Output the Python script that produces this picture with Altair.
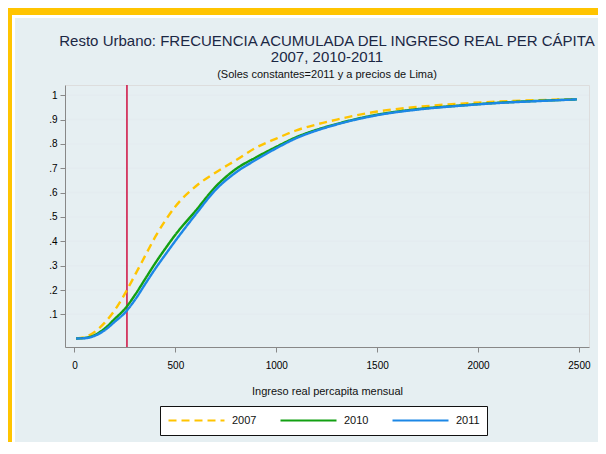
import altair as alt
import pandas as pd

# ---- data ----
ingreso = [8, 50, 100, 150, 200, 250, 300, 350, 400, 450, 500, 600, 700, 800, 900,
           1000, 1100, 1200, 1300, 1400, 1500, 1700, 1900, 2100, 2300, 2490]
f2007 = [0.001, 0.006, 0.028, 0.066, 0.118, 0.185, 0.262, 0.34, 0.418, 0.485, 0.543,
         0.625, 0.683, 0.733, 0.785, 0.822, 0.856, 0.88, 0.90, 0.918, 0.933, 0.952,
         0.965, 0.974, 0.98, 0.984]
f2010 = [0.001, 0.003, 0.015, 0.042, 0.082, 0.123, 0.18, 0.245, 0.31, 0.37, 0.427,
         0.525, 0.625, 0.697, 0.745, 0.788, 0.828, 0.858, 0.882, 0.903, 0.92, 0.943,
         0.957, 0.969, 0.977, 0.983]
f2011 = [0.001, 0.002, 0.012, 0.035, 0.07, 0.107, 0.16, 0.224, 0.287, 0.345, 0.402,
         0.51, 0.612, 0.683, 0.735, 0.782, 0.824, 0.855, 0.88, 0.901, 0.918, 0.941,
         0.956, 0.968, 0.976, 0.983]
series = ["2007", "2010", "2011"]
linea_pobreza = [260]
y_ticks = [0.1, 0.2, 0.3, 0.4, 0.5, 0.6, 0.7, 0.8, 0.9, 1.0]
x_ticks = [0, 500, 1000, 1500, 2000, 2500]

titulo = ["Resto Urbano: FRECUENCIA ACUMULADA DEL INGRESO REAL PER CÁPITA",
          "2007, 2010-2011"]
subtitulo = "(Soles constantes=2011 y a precios de Lima)"
x_titulo = "Ingreso real percapita mensual"

rows = []
for name, vals in zip(series, [f2007, f2010, f2011]):
    for x, f in zip(ingreso, vals):
        rows.append({"ingreso": x, "F": f, "anio": name})
df = pd.DataFrame(rows)

FONT = "Liberation Sans"
YELLOW = "#ffc400"
BG = "#e6eff2"
W, H = 524, 262
PL, PT = 57, 77
TOTW, TOTH = 590, 434
RX = TOTW - PL  # right edge of the svg in plot coordinates

xscale = alt.Scale(domain=[-47, 2550], nice=False, zero=False)
yscale = alt.Scale(domain=[-0.034, 1.042], nice=False, zero=False)
xaxis = alt.Axis(values=x_ticks, format="d", title=x_titulo, grid=False, zindex=1,
                 tickSize=5, labelPadding=8, titlePadding=15, titleFontWeight="normal",
                 titleFont=FONT, titleFontSize=11, titleColor="#111")
yaxis = alt.Axis(values=y_ticks, title=None, grid=False, zindex=1, tickSize=5,
                 labelPadding=3,
                 labelExpr="datum.value >= 0.999 ? '1' : '.' + round(datum.value * 10)")


def xenc(field):
    return alt.X(field, type="quantitative", scale=xscale, axis=xaxis)


def yenc(field):
    return alt.Y(field, type="quantitative", scale=yscale, axis=yaxis)


one = alt.Data(values=[{"k": 1}])


def box(x1, x2, y1, y2, color):
    return alt.Chart(one).mark_rect(color=color).encode(
        x=alt.value(x1), x2=alt.value(x2), y=alt.value(y1), y2=alt.value(y2))


# outer yellow frame (left and top) and the white gap inside it
frame_left = box(-PL, -PL + 4, -PT, TOTH, YELLOW)
frame_top = box(-PL, RX, -PT, -PT + 7, YELLOW)
gap_left = box(-PL + 4, -PL + 7, -PT + 7, TOTH, "white")
gap_top = box(-PL + 4, RX, -PT + 7, -PT + 10, "white")

grid = alt.Chart(pd.DataFrame({"t": y_ticks})).mark_rule(
    color="#e4ecf0", strokeWidth=1.5).encode(y=yenc("t"))

vline = alt.Chart(pd.DataFrame({"lp": linea_pobreza})).mark_rule(
    color="#d01c4b", strokeWidth=1.6).encode(x=xenc("lp"))

legend = alt.Legend(title=None, orient="none", legendX=95, legendY=321,
                    direction="horizontal", symbolType="stroke", symbolSize=3136,
                    symbolStrokeWidth=2.2, clipHeight=15, labelFontSize=11,
                    labelFont=FONT, labelColor="#111", strokeColor="#111",
                    fillColor="white", padding=7, columnPadding=22, labelOffset=6,
                    cornerRadius=0)

lines = alt.Chart(df).mark_line(strokeWidth=2.4, interpolate="monotone").encode(
    x=xenc("ingreso"),
    y=yenc("F"),
    color=alt.Color("anio:N", scale=alt.Scale(domain=series,
                                              range=[YELLOW, "#12a012", "#1c87e6"]),
                    legend=legend),
    strokeDash=alt.StrokeDash("anio:N", scale=alt.Scale(domain=series,
                                                        range=[[8, 5], [1, 0], [1, 0]]),
                              legend=legend),
    order=alt.Order("ingreso:Q"),
)

chart = alt.layer(frame_left, frame_top, gap_left, gap_top, grid, vline, lines).properties(
    width=W, height=H,
    autosize=alt.AutoSizeParams(type="none"),
    padding={"left": PL, "top": PT, "right": TOTW - PL - W, "bottom": TOTH - PT - H},
    title=alt.Title(text=titulo, subtitle=subtitulo, anchor="middle", font=FONT,
                    fontSize=15, fontWeight="normal", color="#1b2744", lineHeight=16.5,
                    subtitleFont=FONT, subtitleFontSize=11, subtitleColor="#111",
                    subtitlePadding=4, offset=-72, frame="group"),
).configure_view(stroke="transparent", fill="white").configure_axis(
    labelFont=FONT, titleFont=FONT, labelFontSize=11, titleFontSize=11,
    titleFontWeight="normal", labelColor="#111", titleColor="#111",
    domainColor="#555", tickColor="#555", domainWidth=1.2,
).configure(background=BG)

chart.save("out.html", embed_options={"renderer": "svg", "actions": False})
